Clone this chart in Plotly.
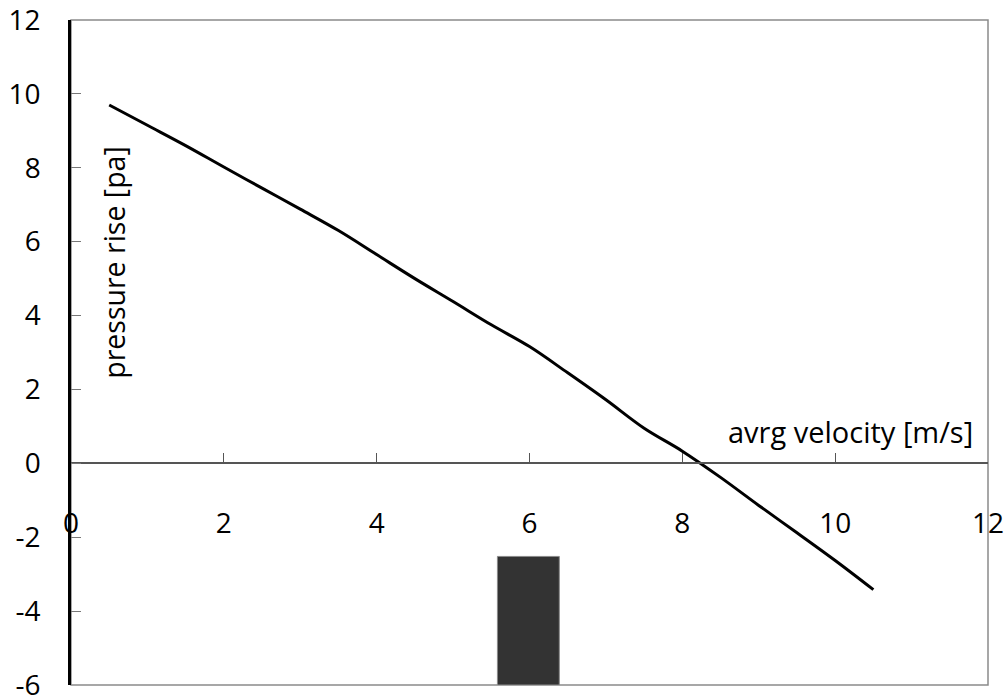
import plotly.graph_objects as go

# fan curve
velocity = [0.5, 1.0, 1.5, 2.0, 2.5, 3.0, 3.5, 4.0, 4.5, 5.0, 5.5,
            6.0, 6.5, 7.0, 7.5, 8.0, 8.5, 9.0, 9.5, 10.0, 10.5]
pressure = [9.70, 9.15, 8.60, 8.02, 7.45, 6.88, 6.30, 5.65, 5.00, 4.38, 3.75,
            3.16, 2.45, 1.72, 0.95, 0.33, -0.38, -1.14, -1.88, -2.63, -3.42]

# the dark block at the bottom
block_x = [5.985]
block_width = [0.81]
block_bottom = [-6.0]
block_top = [-2.52]

x_ticks = [0, 2, 4, 6, 8, 10, 12]
y_ticks = [-6, -4, -2, 0, 2, 4, 6, 8, 10, 12]
y_labels = ["-6", "-4", "-2", "0", "2", "4", "6", "8", "10", "12"]

font = "Open Sans"

fig = go.Figure()
fig.add_trace(go.Bar(
    x=block_x, y=[t - b for t, b in zip(block_top, block_bottom)], base=block_bottom,
    width=block_width, marker_color="#333333",
    marker_line=dict(color="#8a8a8a", width=1), showlegend=False))
fig.add_trace(go.Scatter(
    x=velocity, y=pressure, mode="lines", line_shape="spline",
    line=dict(color="black", width=3), showlegend=False))

fig.add_annotation(x=10.2, y=0.85, text="avrg velocity [m/s]", showarrow=False,
                   font=dict(family=font, size=29, color="black"))
fig.add_annotation(x=0.56, y=5.45, text="pressure rise [pa]", showarrow=False,
                   textangle=-90, font=dict(family=font, size=28.5, color="black"))

# grey frame round the plot area
fig.add_shape(type="rect", xref="paper", yref="paper", x0=0, x1=1, y0=0, y1=1,
              line=dict(color="#8a8a8a", width=1.5), layer="below")

fig.update_layout(
    width=1008, height=697,
    margin=dict(l=71, r=20, t=20, b=12, autoexpand=False),
    plot_bgcolor="white", paper_bgcolor="white",
    font=dict(family=font, size=28, color="black"),
    xaxis=dict(range=[0, 12], tickvals=x_ticks, showgrid=False, zeroline=False,
               anchor="free", position=6 / 18, automargin=False,
               showline=True, linecolor="#555555", linewidth=1.5,
               ticks="inside", ticklen=10, tickcolor="#555555", tickwidth=1,
               ticklabelstandoff=35, ticklabeloverflow="allow",
               tickfont=dict(size=28)),
    yaxis=dict(range=[-6, 12], tickvals=y_ticks, ticktext=y_labels,
               showgrid=False, zeroline=False, automargin=False,
               showline=True, linecolor="black", linewidth=2.5,
               ticks="inside", ticklen=10, tickcolor="#777777", tickwidth=1,
               ticklabelstandoff=22, ticklabeloverflow="allow",
               tickfont=dict(size=28)),
)

# the page's default 8px body margin would push the figure off the window
fig.write_html("out.html", config={"displayModeBar": False},
               post_script="document.body.style.margin='0px';")
